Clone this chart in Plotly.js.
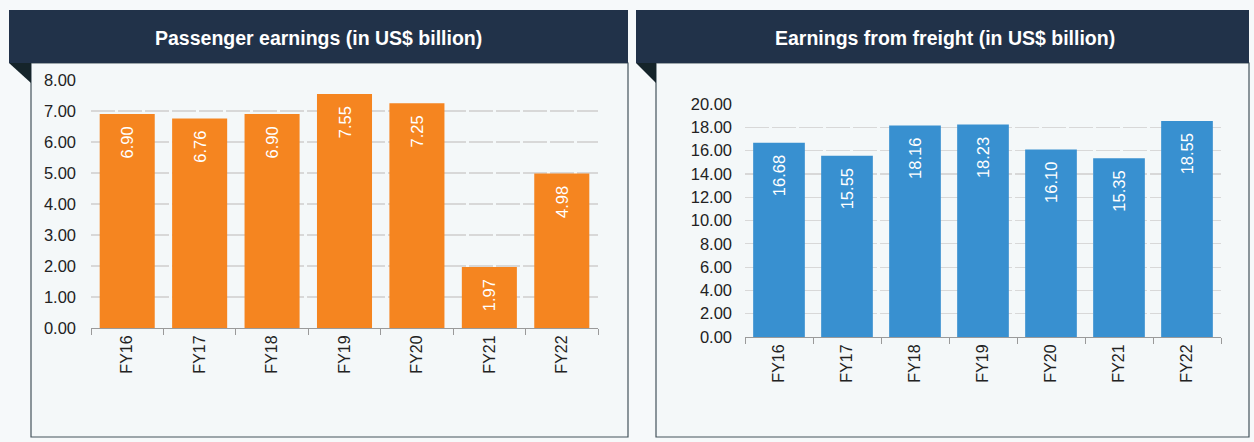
<!DOCTYPE html>
<html><head><meta charset="utf-8">
<script src="https://cdn.plot.ly/plotly-3.0.1.min.js"></script>
<style>html,body{margin:0;padding:0;background:#f6f9fa;}#chart{width:1254px;height:442px;}</style>
</head><body><div id="chart"></div>
<script>
const categories = ['FY16','FY17','FY18','FY19','FY20','FY21','FY22'];
const passengerValues = [6.90, 6.76, 6.90, 7.55, 7.25, 1.97, 4.98];
const freightValues = [16.68, 15.55, 18.16, 18.23, 16.10, 15.35, 18.55];
const titles = ['Passenger earnings (in US$ billion)', 'Earnings from freight (in US$ billion)'];

const W = 1254, H = 442;
const px = x => x / W;
const py = y => 1 - y / H;
const font = 'Liberation Sans, Arial, sans-serif';
const pad = '\u00a0\u00a0';

const traces = [
  {type:'bar', x:categories, y:passengerValues, xaxis:'x', yaxis:'y',
   marker:{color:'#f58520'}, texttemplate:'%{y:.2f}' + pad, textposition:'inside',
   insidetextanchor:'end', textangle:-90, textfont:{color:'#ffffff', size:16.5, family:font},
   hoverinfo:'none', cliponaxis:false},
  {type:'bar', x:categories, y:freightValues, xaxis:'x2', yaxis:'y2',
   marker:{color:'#3890d0'}, texttemplate:'%{y:.2f}' + pad, textposition:'inside',
   insidetextanchor:'end', textangle:-90, textfont:{color:'#ffffff', size:16.5, family:font},
   hoverinfo:'none', cliponaxis:false}
];

const xCommon = {type:'category', showline:true, linecolor:'#9a9a9a', linewidth:1,
  ticks:'outside', tickson:'boundaries', ticklen:6, tickcolor:'#9a9a9a',
  tickangle:-90, tickfont:{size:16, color:'#222', family:font}, showgrid:false,
  fixedrange:true};
const yCommon = {showline:false, zeroline:false, showgrid:true, gridcolor:'#d8d8d8',
  griddash:'24px,3px', gridwidth:1.2, tickformat:'.2f', tickfont:{size:16.5, color:'#222', family:font},
  ticks:'', fixedrange:true};

const shapes = [];
function panel(hx0, hx1, bx0, bx1) {
  shapes.push({type:'rect', xref:'paper', yref:'paper', x0:px(bx0), x1:px(bx1), y0:py(437), y1:py(63),
    fillcolor:'#f4f8f9', line:{color:'#44545c', width:1.2}, layer:'below'});
  shapes.push({type:'rect', xref:'paper', yref:'paper', x0:px(hx0), x1:px(hx1), y0:py(63), y1:py(10),
    fillcolor:'#213249', line:{width:0}, layer:'above'});
  shapes.push({type:'path', xref:'paper', yref:'paper',
    path:`M ${px(hx0)},${py(63)} L ${px(bx0)},${py(63)} L ${px(bx0)},${py(83)} Z`,
    fillcolor:'#15242a', line:{width:0}, layer:'above'});
}
panel(9, 628, 31, 628);
panel(636, 1249, 656, 1249);

const annotations = [
  {text:'<b>'+titles[0]+'</b>', xref:'paper', yref:'paper', x:px(318.5), y:py(38), showarrow:false,
   font:{size:19.5, color:'#ffffff', family:font}, xanchor:'center', yanchor:'middle'},
  {text:'<b>'+titles[1]+'</b>', xref:'paper', yref:'paper', x:px(945), y:py(38), showarrow:false,
   font:{size:19.5, color:'#ffffff', family:font}, xanchor:'center', yanchor:'middle'}
];

const layout = {
  width:W, height:H, margin:{l:0, r:0, t:0, b:0}, showlegend:false,
  paper_bgcolor:'#f6f9fa', plot_bgcolor:'rgba(0,0,0,0)',
  bargap:0.24,
  xaxis:Object.assign({}, xCommon, {domain:[px(91), px(598)], anchor:'y'}),
  yaxis:Object.assign({}, yCommon, {domain:[py(328), py(80)], range:[0,8], dtick:1, anchor:'x', ticklabelstandoff:14}),
  xaxis2:Object.assign({}, xCommon, {domain:[px(745), px(1221)], anchor:'y2'}),
  yaxis2:Object.assign({}, yCommon, {domain:[py(337), py(104)], range:[0,20], dtick:2, anchor:'x2', ticklabelstandoff:12}),
  shapes:shapes, annotations:annotations, font:{family:font}
};

Plotly.newPlot('chart', traces, layout, {displayModeBar:false, staticPlot:true});
</script></body></html>
